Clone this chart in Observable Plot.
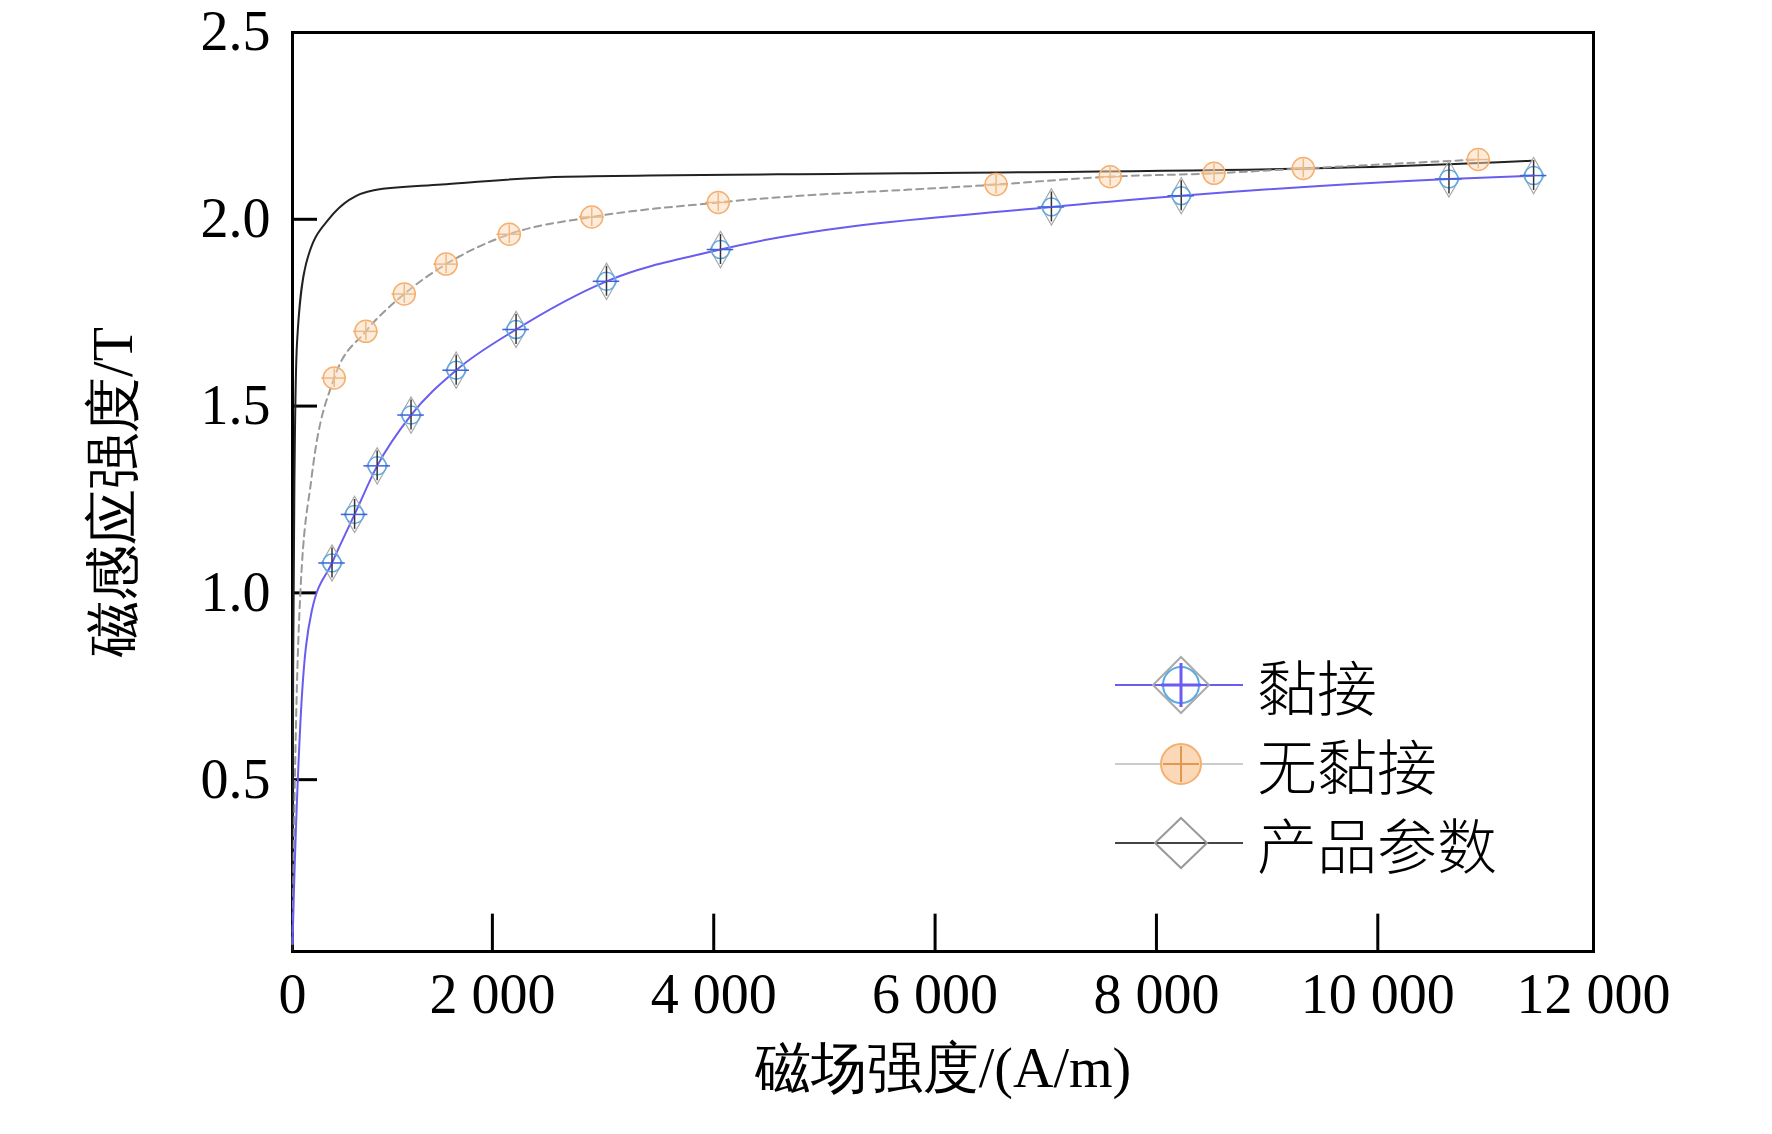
<!DOCTYPE html>
<html><head><meta charset="utf-8">
<script src="https://cdn.jsdelivr.net/npm/d3@7"></script>
<script src="https://cdn.jsdelivr.net/npm/@observablehq/plot@0.6"></script>
<style>
body{margin:0;background:#fff;}
#wrap{position:relative;width:1772px;height:1134px;font-family:"Liberation Serif","Noto Sans CJK SC",serif;}
#legend{position:absolute;left:1115px;top:645px;}
.row{display:flex;align-items:center;height:79px;font-size:60px;font-family:"Noto Sans CJK SC",serif;font-weight:300;}
.row svg{margin-right:12px;}
</style></head><body><div id="wrap"><div id="legend"></div></div>
<script>
const bondedH = [551,755,959,1265,1673,2214,3031,4061,7051,8224,10643,11408];
const bondedB = [1.08,1.21,1.34,1.476,1.596,1.705,1.834,1.919,2.033,2.063,2.108,2.117];
const bondedCurveH = [194,204,265,367,551,755,959,1265,1673,2214,3031,4061,7051,8224,10643,11408];
const bondedCurveB = [0.06,0.17,0.65,0.95,1.08,1.21,1.34,1.476,1.596,1.705,1.834,1.919,2.033,2.063,2.108,2.117];
const freeH = [571,857,1204,1582,2153,2898,4041,6551,7582,8520,9327,10908];
const freeB = [1.575,1.70,1.80,1.88,1.96,2.006,2.045,2.093,2.114,2.123,2.136,2.16];
const freeCurveH = [194,214,265,367,571,857,1204,1582,2153,2898,4041,6551,7582,8520,9327,10908];
const freeCurveB = [0.06,0.47,1.0,1.31,1.575,1.70,1.80,1.88,1.96,2.006,2.045,2.093,2.114,2.123,2.136,2.16];
const prodH = [194,200,214,235,316,520,929,1541,2663,5724,9806,11388];
const prodB = [0.045,0.8,1.37,1.67,1.88,2.0,2.078,2.093,2.114,2.123,2.139,2.157];
const xTicks = [194,2000,4000,6000,8000,10000,11949];
const yTicks = [0.5,1.0,1.5,2.0,2.5];

const bonded = bondedH.map((h,i)=>({h,b:bondedB[i]}));
const free = freeH.map((h,i)=>({h,b:freeB[i]}));
const bc = bondedCurveH.map((h,i)=>({h,b:bondedCurveB[i]}));
const fc = freeCurveH.map((h,i)=>({h,b:freeCurveB[i]}));
const pc = prodH.map((h,i)=>({h,b:prodB[i]}));
const fmt = d => d===194?"0":d===11949?"12 000":d3.format(",")(d).replace(/,/g," ");

const plot = Plot.plot({
  width:1772,height:1134,marginLeft:292,marginTop:32,marginRight:179,marginBottom:183,
  style:{fontFamily:"Liberation Serif",fontSize:"56px",color:"#000",background:"#fff",overflow:"visible"},
  x:{domain:[194,11949],ticks:xTicks,tickFormat:fmt,tickSize:0,tickPadding:22,labelArrow:"none",
     label:"磁场强度/(A/m)",labelAnchor:"center",labelOffset:135},
  y:{domain:[0.04,2.5],ticks:yTicks,tickFormat:d3.format(".1f"),tickSize:0,tickPadding:22,labelArrow:"none",
     label:"磁感应强度/T",labelAnchor:"center",labelOffset:200},
  marks:[
    Plot.frame({stroke:"#000",strokeWidth:3}),
    Plot.ruleX([2000,4000,6000,8000,10000],{x:d=>d,y1:0.04,y2:0.14,stroke:"#000",strokeWidth:3}),
    Plot.ruleY([0.5,1.0,1.5,2.0],{y:d=>d,x1:194,x2:420,stroke:"#000",strokeWidth:3}),
    Plot.line(pc,{x:"h",y:"b",curve:"monotone-x",stroke:"#222",strokeWidth:2}),
    Plot.line(fc,{x:"h",y:"b",curve:"monotone-x",stroke:"#999",strokeWidth:2,strokeDasharray:"7,5"}),
    Plot.line(bc,{x:"h",y:"b",curve:"monotone-x",stroke:"#6a5cf0",strokeWidth:2}),
    Plot.ruleX(free,{x:"h",y1:d=>d.b-0.025,y2:d=>d.b+0.025,stroke:"#e09a50",strokeWidth:1.5}),
    Plot.ruleY(free,{y:"b",x1:d=>d.h-110,x2:d=>d.h+110,stroke:"#e09a50",strokeWidth:1.5}),
    Plot.dot(free,{x:"h",y:"b",r:11,stroke:"#f5b070",fill:"#fbd9b8",fillOpacity:0.5,strokeWidth:1.5}),
    Plot.dot(bonded,{x:"h",y:"b",symbol:"diamond",r:11,stroke:"#aaa",strokeWidth:1.2}),
    Plot.dot(bonded,{x:"h",y:"b",r:9,stroke:"#5aaae8",strokeWidth:1.5}),
    Plot.ruleX(bonded,{x:"h",y1:d=>d.b-0.04,y2:d=>d.b+0.04,stroke:"#333",strokeWidth:1.5}),
    Plot.ruleY(bonded,{y:"b",x1:d=>d.h-120,x2:d=>d.h+120,stroke:"#4060e0",strokeWidth:1.5})
  ]
});
document.getElementById("wrap").prepend(plot);

const items=[["黏接","#6a5cf0","#5aaae8","circle"],["无黏接","#ccc","#f5b070","fill"],["产品参数","#444","#999","diamond"]];
const lg=document.getElementById("legend");
items.forEach(([t,lc,mc,k])=>{
  const marker = k==="diamond" ? `<path d="M66 15 L92 40 L66 65 L40 40Z" fill="none" stroke="${mc}" stroke-width="2"/>`
   : k==="fill" ? `<circle cx="66" cy="40" r="20" fill="#fbd9b8" stroke="${mc}" stroke-width="2"/><path d="M66 22V58M48 40H84" stroke="#e09a50" stroke-width="2"/>`
   : `<path d="M66 12 L94 40 L66 68 L38 40Z" fill="none" stroke="#aaa" stroke-width="2"/><circle cx="66" cy="40" r="18" fill="none" stroke="${mc}" stroke-width="2"/><path d="M66 18V62M46 40H86" stroke="${lc}" stroke-width="3"/>`;
  const d=document.createElement("div");d.className="row";
  d.innerHTML=`<svg width="130" height="80"><line x1="0" y1="40" x2="128" y2="40" stroke="${lc}" stroke-width="2"/>${marker}</svg><span>${t}</span>`;
  lg.appendChild(d);
});
</script></body></html>
